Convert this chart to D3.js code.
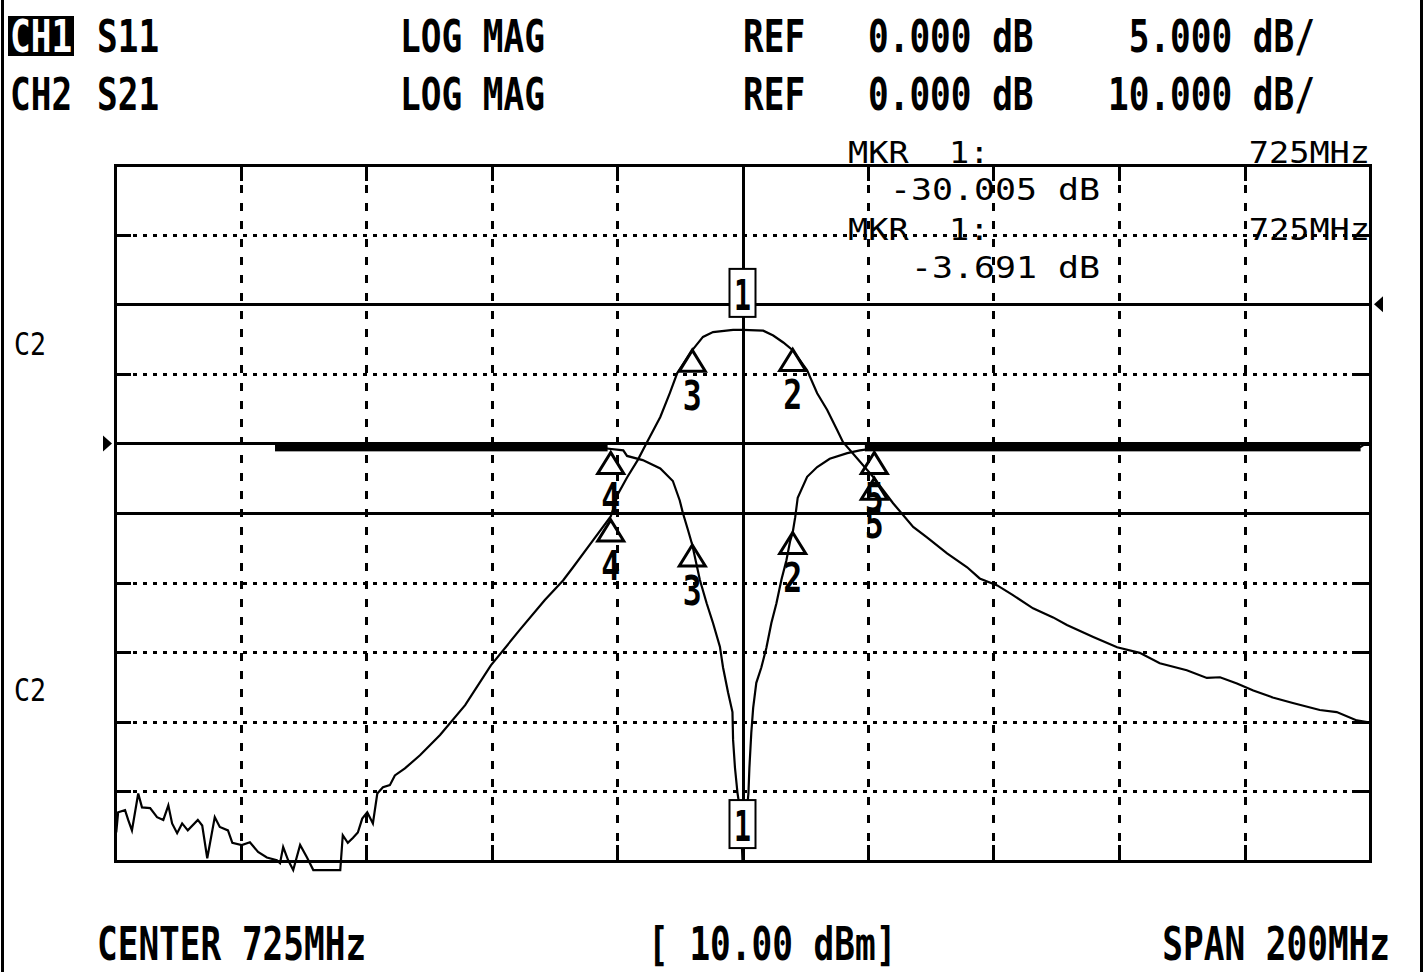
<!DOCTYPE html>
<html><head><meta charset="utf-8">
<script src="https://cdn.jsdelivr.net/npm/d3@7"></script>
<style>html,body{margin:0;padding:0;background:#fff;} svg{display:block;}</style>
</head><body><svg id="c" width="1427" height="972"></svg>
<script>
// ---------- data ----------
const freqStartMHz = 625, freqStopMHz = 825;
const ch1Domain = [-30, 20];   // S11, ref 0 dB, 5 dB/div
const ch2Domain = [-80, 20];   // S21, ref 0 dB, 10 dB/div
const divisions = 10;

const s21Freq = [625.2,625.5,626.6,627.1,627.7,628.7,629.3,630.6,631.7,632.7,633.5,634.1,634.9,635.7,636.6,638.2,638.9,639.7,640.9,641.7,643.0,643.7,645.2,646.5,647.8,649.2,650.8,651.3,651.8,652.6,653.4,654.5,655.6,656.6,660.9,661.3,662.1,662.9,663.7,664.4,665.2,666.1,666.8,667.7,668.8,669.6,671.2,673.6,676.8,680.8,684.9,689.5,693.5,696.4,698.0,701.2,704.0,705.2,706.6,708.3,709.8,711.9,713.4,714.6,717.0,718.7,720.3,723.5,725.0,728.3,729.9,731.5,733.0,735.3,736.9,738.5,740.1,741.0,745.8,749.0,752.2,754.4,757.6,760.8,762.8,765.6,768.1,771.3,774.5,776.7,780.9,784.7,788.3,791.5,795.8,799.0,801.1,803.8,806.4,809.5,812.7,817.0,819.7,822.9,825.0];
const s21Db = [-75.9,-73.0,-72.7,-74.1,-75.6,-70.3,-72.3,-72.4,-73.7,-74.1,-72.0,-74.6,-76.0,-74.6,-75.6,-74.1,-74.9,-79.6,-73.7,-75.1,-75.6,-77.4,-77.7,-77.3,-78.7,-79.5,-79.9,-80.3,-78.0,-79.9,-81.3,-77.7,-79.5,-81.3,-81.3,-76.3,-77.4,-76.7,-75.9,-73.9,-73.0,-74.6,-70.3,-69.4,-69.1,-67.7,-66.7,-64.8,-61.9,-57.6,-51.9,-46.8,-42.5,-39.7,-37.8,-33.9,-30.5,-27.2,-24.9,-22.4,-19.8,-16.2,-12.8,-9.9,-6.6,-4.7,-4.0,-3.7,-3.691,-3.8,-4.5,-5.5,-6.6,-9.5,-12.8,-15.2,-18.1,-19.8,-24.8,-28.6,-32.0,-33.5,-35.8,-37.8,-39.4,-40.4,-41.8,-43.7,-45.0,-46.1,-47.8,-49.3,-50.1,-51.6,-52.6,-53.7,-53.6,-54.5,-55.5,-56.5,-57.3,-58.3,-58.6,-59.8,-60.1];

const s11Freq = [625,650.5,651,703,706.0,706.6,709.1,711.9,713.9,715.0,715.5,716.3,717.0,718.2,719.3,720.3,721.4,721.9,722.7,723.4,723.5,723.8,724.2,724.7,725.0,725.95,726.1,726.4,726.7,727.2,728.0,728.8,729.6,730.4,731.2,732.0,732.6,733.0,733.4,733.8,735.3,736.9,738.9,741.7,743.7,746.9,823.5,824,825];
const s11Db = [0,0,-0.25,-0.35,-0.5,-0.9,-1.2,-1.8,-2.7,-4.1,-5.0,-6.2,-7.3,-9.8,-11.5,-12.9,-14.6,-16.1,-17.9,-19.3,-21.3,-23.3,-25.1,-26.6,-30.005,-25.1,-23.3,-20.8,-19.0,-17.2,-16.1,-14.7,-12.9,-11.5,-9.8,-8.4,-7.0,-6.4,-5.3,-3.9,-2.4,-1.7,-1.1,-0.7,-0.5,-0.3,-0.25,-0.1,-0.1];
// noisy flat S11 region, drawn as a band [fromMHz, toMHz, hiDb, loDb]
const s11NoiseBands = [[650.5,703.5,0,-0.5],[744.5,823.5,0,-0.5]];

const markerIds = [1,2,3,4,5];
const markerFreq = [725,733,717,704,746];
const s21MarkerDb = [-3.691,-6.5,-6.6,-31.0,-25.0];
const s11MarkerDb = [-30.005,-6.4,-7.3,-0.65,-0.65];

const headerRow1 = ["CH1","S11","LOG MAG","REF","0.000 dB"," 5.000 dB/"];
const headerRow2 = ["CH2","S21","LOG MAG","REF","0.000 dB","10.000 dB/"];
const readoutLabels = ["MKR  1:","MKR  1:"];
const readoutFreqs = ["725MHz","725MHz"];
const readoutValues = ["-30.005 dB"," -3.691 dB"];
const sideLabels = ["C2","C2"];
const footerTexts = ["CENTER 725MHz","[ 10.00 dBm]","SPAN 200MHz"];

// ---------- layout ----------
const W = 1427, H = 972;
const plot = {l:115, r:1370, t:165, b:861};
const svg = d3.select("#c");
svg.append("rect").attr("width",W).attr("height",H).attr("fill","#fff");

const x = d3.scaleLinear().domain([freqStartMHz,freqStopMHz]).range([plot.l,plot.r]);
const y1 = d3.scaleLinear().domain(ch1Domain).range([plot.b,plot.t]);
const y2 = d3.scaleLinear().domain(ch2Domain).range([plot.b,plot.t]);

const xGrid = d3.range(divisions+1).map(i => freqStartMHz + i*(freqStopMHz-freqStartMHz)/divisions);
const yGrid1 = d3.range(divisions+1).map(i => ch1Domain[0] + i*(ch1Domain[1]-ch1Domain[0])/divisions);

const g = svg.append("g");
const gridG = g.append("g").attr("shape-rendering","crispEdges");

// outer frame lines
gridG.append("line").attr("x1",2).attr("x2",2).attr("y1",0).attr("y2",H).attr("stroke","#000").attr("stroke-width",3);
gridG.append("line").attr("x1",1421).attr("x2",1421).attr("y1",0).attr("y2",H).attr("stroke","#000").attr("stroke-width",3);

// horizontal grid
const solidCh1 = [0];            // CH1 ref
const solidCh2 = [0, -30];       // CH2 ref and -30 dB line
const solidY = solidCh1.map(v=>y1(v)).concat(solidCh2.map(v=>y2(v)));
yGrid1.forEach(v => {
  const yy = Math.round(y1(v));
  if (v === ch1Domain[0] || v === ch1Domain[1]) return;
  const isSolid = solidY.some(s => Math.abs(s-yy) < 2);
  if (isSolid) {
    gridG.append("line").attr("x1",plot.l).attr("x2",plot.r).attr("y1",yy).attr("y2",yy)
      .attr("stroke","#000").attr("stroke-width",3);
  } else {
    gridG.append("line").attr("x1",plot.l+18).attr("x2",plot.r-18).attr("y1",yy).attr("y2",yy)
      .attr("stroke","#000").attr("stroke-width",3).attr("stroke-dasharray","4,6");
    gridG.append("line").attr("x1",plot.l).attr("x2",plot.l+16).attr("y1",yy).attr("y2",yy).attr("stroke","#000").attr("stroke-width",3);
    gridG.append("line").attr("x1",plot.r-18).attr("x2",plot.r).attr("y1",yy).attr("y2",yy).attr("stroke","#000").attr("stroke-width",3);
  }
});
// vertical grid
xGrid.forEach((f,i) => {
  const xx = Math.round(x(f));
  if (i===0 || i===divisions) return;
  if (i === divisions/2) {
    gridG.append("line").attr("x1",xx).attr("x2",xx).attr("y1",plot.t).attr("y2",plot.b).attr("stroke","#000").attr("stroke-width",3);
  } else {
    gridG.append("line").attr("x1",xx).attr("x2",xx).attr("y1",plot.t+20).attr("y2",plot.b-20)
      .attr("stroke","#000").attr("stroke-width",3).attr("stroke-dasharray","8,10");
    gridG.append("line").attr("x1",xx).attr("x2",xx).attr("y1",plot.t).attr("y2",plot.t+16).attr("stroke","#000").attr("stroke-width",3);
    gridG.append("line").attr("x1",xx).attr("x2",xx).attr("y1",plot.b-16).attr("y2",plot.b).attr("stroke","#000").attr("stroke-width",3);
  }
});
// border
gridG.append("rect").attr("x",plot.l).attr("y",plot.t).attr("width",plot.r-plot.l).attr("height",plot.b-plot.t)
  .attr("fill","none").attr("stroke","#000").attr("stroke-width",3);

// ref triangles
const refL = y1(0), refR = y2(0);
g.append("path").attr("d",`M${plot.l-12},${refL-8}L${plot.l-12},${refL+8}L${plot.l-3},${refL}Z`).attr("fill","#000");
g.append("path").attr("d",`M${plot.r+13},${refR-8}L${plot.r+13},${refR+8}L${plot.r+4},${refR}Z`).attr("fill","#000");

// traces
const s21 = s21Freq.map((f,i)=>[f,s21Db[i]]);
const s11 = s11Freq.map((f,i)=>[f,s11Db[i]]);
g.append("path").datum(s21).attr("fill","none").attr("stroke","#000").attr("stroke-width",2.2)
  .attr("d", d3.line().x(d=>x(d[0])).y(d=>y2(d[1])));
g.append("path").datum(s11).attr("fill","none").attr("stroke","#000").attr("stroke-width",2.2)
  .attr("d", d3.line().x(d=>x(d[0])).y(d=>y1(d[1])));
s11NoiseBands.forEach(b => {
  g.append("rect").attr("x",x(b[0])).attr("width",x(b[1])-x(b[0]))
    .attr("y",y1(b[2])).attr("height",y1(b[3])-y1(b[2])+1).attr("fill","#000");
});

// ---------- text helper (monospace, horizontally condensed via transform) ----------
const monoFont = "'DejaVu Sans Mono', monospace";
const monoAdvance = 0.602;
function monoText(str, x0, yb, size, weight, p, fill) {
  const sx = p / (monoAdvance * size);
  return g.append("text")
    .attr("transform", `translate(${x0},${yb}) scale(${sx},1)`)
    .attr("x",0).attr("y",0).attr("font-family",monoFont).attr("font-weight",weight)
    .attr("font-size",size).attr("fill",fill||"#000").style("white-space","pre").text(str);
}

// markers
function markerTri(mx, my, id) {
  g.append("path").attr("d",`M${mx},${my}L${mx-13},${my+21}L${mx+13},${my+21}Z`)
    .attr("fill","none").attr("stroke","#000").attr("stroke-width",3).attr("stroke-linejoin","miter");
  monoText(String(id), mx-9.5, my+60, 40, "bold", 19);
}
function markerBox(mx, my, id) {
  g.append("rect").attr("x",mx-13).attr("y",my-61).attr("width",26).attr("height",48)
    .attr("fill","#fff").attr("stroke","#000").attr("stroke-width",2);
  monoText(String(id), mx-8.5, my-20, 42, "bold", 17);
}
markerIds.forEach((id,i) => {
  const mx = x(markerFreq[i]);
  if (id === 1) {
    markerBox(mx, y2(s21MarkerDb[i]), id);
    markerBox(mx, y1(s11MarkerDb[i]), id);
  } else {
    markerTri(mx, y2(s21MarkerDb[i]), id);
    markerTri(mx, y1(s11MarkerDb[i]), id);
  }
});

// ---------- text ----------
const pitch = 20.7;
const hdrCols = [10, 97, 400, 743, 868, 1108];
g.append("rect").attr("x",8).attr("y",16).attr("width",66).attr("height",40).attr("fill","#000");
headerRow1.forEach((s,i) => monoText(s, hdrCols[i], 52, 44, "bold", pitch, i===0 ? "#fff" : "#000"));
headerRow2.forEach((s,i) => monoText(s, hdrCols[i], 110, 44, "bold", pitch));

// marker readouts
const roPitch = 20.2;
monoText(readoutLabels[0], 848, 163, 30, "normal", roPitch);
monoText(readoutFreqs[0], 1370 - readoutFreqs[0].length*roPitch, 163, 30, "normal", roPitch);
monoText(readoutValues[0], 1100 - readoutValues[0].length*21, 200, 30, "normal", 21);
monoText(readoutLabels[1], 848, 240, 30, "normal", roPitch);
monoText(readoutFreqs[1], 1370 - readoutFreqs[1].length*roPitch, 240, 30, "normal", roPitch);
monoText(readoutValues[1], 1100 - readoutValues[1].length*21, 278, 30, "normal", 21);

// side labels
monoText(sideLabels[0], 14, 355, 32, "normal", 16);
monoText(sideLabels[1], 14, 701, 32, "normal", 16);

// footer
monoText(footerTexts[0], 97, 960, 46, "bold", pitch);
monoText(footerTexts[1], 648, 960, 46, "bold", pitch);
monoText(footerTexts[2], 1390 - footerTexts[2].length*pitch, 960, 46, "bold", pitch);
</script></body></html>
